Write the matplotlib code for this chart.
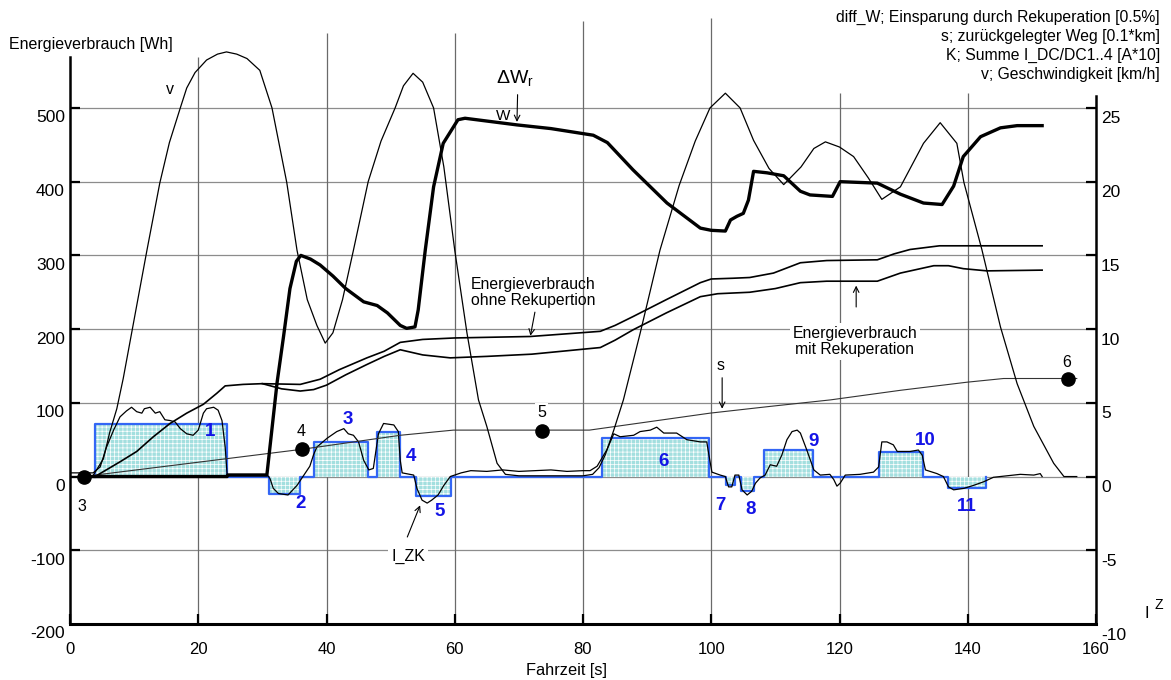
import matplotlib
matplotlib.use('Agg')
import matplotlib.pyplot as plt
from matplotlib import transforms as mtrans

plt.rcParams['font.family'] = ['Liberation Sans', 'DejaVu Sans']
plt.rcParams['hatch.linewidth'] = 0.5
plt.rcParams['mathtext.fontset'] = 'custom'
plt.rcParams['mathtext.rm'] = 'Liberation Sans'
plt.rcParams['mathtext.it'] = 'Liberation Sans:italic'

# ---------------- data (left-axis units, time in s) ----------------
v_t = [0, 3.5, 5.2, 6.2, 7.3, 8.3, 10, 12, 14, 15.5, 17.2, 18.2, 19.5, 21.3, 23, 24.4, 26, 27.6, 29.6, 31.5,
       33.8, 35.4, 37, 38.5, 39.8, 41, 42.5, 44.2, 46.5, 48.5, 50.7, 52, 53.5, 55, 56.7, 58.3, 60, 61.9, 63.7, 65,
       66.6, 67.9, 70, 75, 80, 81.5, 82.5, 83.5, 84.8, 86.3, 88.9, 92, 95, 97.5, 99.8, 102.2, 104.5, 106.6, 109, 111.3,
       114, 116, 117.8, 120, 122.2, 124.5, 126.6, 129.5, 133.1, 135.7, 138.3, 139.4, 142.2, 145.1, 147.7, 150.3, 153.4, 155, 157]
v_val = [0, 0, 24, 60, 92, 133, 213, 307, 398, 453, 500, 527, 548, 565, 573, 576, 573, 567, 551, 500,
         399, 307, 240, 205, 181, 195, 240, 307, 400, 455, 500, 530, 547, 535, 500, 420, 307, 195, 104, 68,
         18, 3, 1, 1, 1, 3, 12, 30, 63, 104, 194, 307, 395, 455, 500, 520, 500, 456, 418, 396,
         420, 445, 454, 447, 434, 405, 376, 393, 452, 480, 452, 399, 308, 203, 126, 68, 18, 0, 0]

dw_t = [2.2, 24.5, 24.6, 30.7, 31.5, 32.3, 33.3, 34.3, 35.3, 36.0, 37.5, 39, 41, 43, 45.8, 47.9, 49.5, 51.5, 52.5, 53.8,
        54.3, 55.4, 56.7, 58.2, 60.5, 61.6, 69.7, 75, 81.6, 83.8, 87.8, 93.1, 98.3, 100, 102.2, 103, 104, 105, 105.8, 106.6,
        108.7, 111.3, 113.9, 115.4, 118.9, 120.1, 125.9, 129.5, 133.1, 136, 137.8, 139.3, 142, 145.1, 147.7, 151.6]
dw_val = [0, 0, 2, 2, 65, 128, 190, 255, 292, 300, 295, 287, 272, 255, 237, 232, 222, 205, 201, 203,
          226, 307, 393, 452, 484, 486, 477, 472, 463, 453, 416, 371, 337, 334, 333, 348, 353, 357, 375, 414,
          412, 408, 387, 382, 380, 400, 398, 383, 371, 369, 394, 434, 461, 473, 476, 476]

ohne_t = [3.9, 7.8, 10.4, 13, 15.6, 18.2, 20.8, 22.9, 24.2, 27, 30, 35.9, 39, 42, 46.3, 49, 51.5, 55, 60, 71.8,
          82.7, 85, 87.8, 93, 98.3, 100, 103.4, 106, 109.7, 113.9, 118, 125.9, 128.5, 131, 135.6, 151.6]
ohne_val = [0, 20, 34, 54, 72, 86, 98, 113, 123, 125, 126, 125, 132, 145, 161, 170, 182, 186, 188, 190,
            197, 205, 217, 240, 263, 268, 269, 270, 276, 290, 293, 294, 302, 308, 313, 313]

mit_t = [30, 33, 35.9, 38, 40, 43, 46.3, 49, 51.5, 55, 59.3, 65, 72, 82.7, 85, 87.8, 93, 98.3, 101, 106,
         110, 113.9, 118, 125.9, 129.5, 134.7, 137, 139.3, 143, 151.6]
mit_val = [126, 119, 116, 118, 124, 138, 152, 163, 172, 165, 161, 163, 166, 175, 185, 199, 222, 244, 248, 250,
           255, 263, 265, 265, 276, 286, 286, 282, 279, 280]

s_t = [2.2, 3.9, 36.2, 51.5, 59.8, 81, 90, 99.8, 109, 118.6, 129.5, 139.9, 145.6, 157]
s_val = [0, 2, 37, 56, 63, 63, 74, 86, 95, 104, 117, 128, 133, 133]

izk_t = [0, 3.6, 4.7, 5.7, 6.8, 7.8, 8.8, 9.6, 10.4, 11.2, 11.6, 12.5, 13.3, 14.0, 14.8, 15.6, 16.4, 17.2, 18.2, 19.2,
         20.0, 20.8, 21.3, 22.4, 23.1, 23.7, 24.2, 24.5, 27, 30.7, 31.2, 31.7, 32.5, 34.0, 35.4, 36.4, 37.4, 38.0, 38.5, 40.1,
         41.6, 42.7, 43.4, 44.2, 45.0, 45.8, 46.6, 47.3, 48.1, 48.9, 50.5, 51.2, 51.5, 51.8, 53.6, 54.1, 54.9, 55.7, 56.4, 57.4,
         58.3, 59.3, 61, 62.5, 65, 67.5, 70, 72.5, 75, 77.5, 80, 81.1, 82.2, 83.7, 84.8, 85.8, 87.9, 88.9, 90.5, 91.5,
         92.6, 94.6, 96.2, 98.3, 99.3, 99.6, 100.1, 101.4, 102.2, 102.7, 103.2, 103.7, 104.3, 104.8, 105.6, 106.3, 106.9, 107.6, 108.4, 109.2,
         110.2, 111.0, 111.8, 112.6, 113.4, 113.9, 114.9, 116.0, 117.0, 118.5, 119.1, 119.6, 120.1, 120.9, 123.2, 125.3, 126.1, 126.6, 127.4, 128.4,
         129.0, 131.0, 132.3, 132.9, 133.4, 135.2, 136.2, 137.0, 137.8, 139.4, 140.9, 142.5, 144.0, 146.1, 148.2, 150.3, 151.3, 151.6]
izk_val = [5, 5, 13, 40, 63, 81, 89, 94, 88, 86, 92, 94, 86, 88, 77, 76, 74, 65, 58, 56,
           63, 86, 92, 94, 90, 76, 40, 3, 3, 3, -3, -16, -23, -25, -12, 1, 14, 30, 40, 52,
           61, 65, 58, 56, 47, 22, 9, 11, 58, 72, 70, 61, 22, 5, 2, -16, -32, -36, -32, -25,
           -12, 0, 5, 8, 7, 9, 7, 8, 9, 7, 8, 8, 14, 36, 58, 54, 56, 61, 63, 67,
           59, 59, 50, 47, 47, 31, 6, 2, 0, -14, -14, 2, 2, -18, -25, -20, -9, -2, 2, 16,
           14, 29, 50, 61, 63, 59, 36, 9, 2, 3, -4, -13, -9, 2, 3, 6, 13, 47, 47, 43,
           34, 34, 36, 29, 9, 4, 0, -14, -18, -16, -12, -7, -1, 1, 3, 2, 4, 0]

bar_start = [3.9, 31.1, 38.0, 47.9, 53.9, 82.9, 102.3, 104.7, 108.3, 126.1, 136.9]
bar_end = [24.5, 35.9, 46.4, 51.4, 59.4, 99.6, 103.7, 106.7, 115.9, 133.0, 142.8]
bar_val = [71, -23, 47, 61, -26, 52, -12, -20, 36, 33, -16]
bar_label = ['1', '2', '3', '4', '5', '6', '7', '8', '9', '10', '11']
bar_label_t = [21.8, 35.9, 43.4, 53.2, 57.7, 92.6, 101.4, 106.2, 115.9, 133.4, 139.9]
bar_label_v = [61, -36, 77, 27, -48, 21, -39, -45, 47, 49, -41]

dot_t = [2.2, 36.2, 73.6, 155.7]
dot_val = [0, 37, 62, 133]
dot_label = ['3', '4', '5', '6']

left_ticks = [500, 400, 300, 200, 100, 0, -100, -200]
right_ticks = [25, 20, 15, 10, 5, 0, -5, -10]
x_ticks = [0, 20, 40, 60, 80, 100, 120, 140, 160]
vgrid_x = [20, 40, 60, 80, 100, 120, 140]
vgrid_top = [569, 602, 602, 618, 622, 520, 520]

legend_lines = ['diff_W; Einsparung durch Rekuperation [0.5%]',
                's; zurückgelegter Weg [0.1*km]',
                'K; Summe I_DC/DC1..4 [A*10]',
                'v; Geschwindigkeit [km/h]']

# ---------------- figure ----------------
W, H = 1171, 680
fig = plt.figure(figsize=(W / 100, H / 100), dpi=100)
ax = fig.add_axes([70 / W, (H - 624) / H, (1096 - 70) / W, (624 - 18) / H])
ax.set_xlim(0, 160)
ax.set_ylim(-200, 622)
ax.patch.set_visible(False)

# grid
for yv in [500, 400, 300, 200, 100, 0, -100]:
    ax.axhline(yv, color='#8c8c8c', lw=0.9, zorder=1)
ax.vlines(vgrid_x, -200, vgrid_top, colors='#6a6a6a', lw=0.9, zorder=1)

# blue current blocks
widths = [e - s for s, e in zip(bar_start, bar_end)]
ax.bar(bar_start, bar_val, width=widths, bottom=0, align='edge', color='#a3dfdf',
       edgecolor='white', hatch='++++', linewidth=0, zorder=2)
step_x = [bar_start[0]]
step_y = [0]
for s, e, v in zip(bar_start, bar_end, bar_val):
    step_x += [s, e]
    step_y += [v, 0]
ax.plot(step_x, step_y, drawstyle='steps-post', color='#3366f5', lw=1.6, zorder=3)

# curves
ax.plot(izk_t, izk_val, color='black', lw=0.9, zorder=4)
ax.plot(s_t, s_val, color='#333333', lw=0.8, zorder=4)
ax.plot(ohne_t, ohne_val, color='black', lw=1.2, zorder=4)
ax.plot(mit_t, mit_val, color='black', lw=1.2, zorder=4)
ax.plot(v_t, v_val, color='black', lw=0.9, zorder=4)
ax.plot(dw_t, dw_val, color='black', lw=2.4, zorder=5, solid_joinstyle='round')

# dots
ax.plot(dot_t, dot_val, 'o', ms=9.5, color='black', zorder=6)
dot_offsets = [(-1.5, -21.5), (-0.7, 12.5), (0, 13), (-1.5, 11.5)]
for t, v, lab, off in zip(dot_t, dot_val, dot_label, dot_offsets):
    ax.annotate(lab, (t, v), xytext=off, textcoords='offset points', ha='center', va='center',
                fontsize=11.5, zorder=7,
                bbox=dict(fc='white', ec='none', pad=1.5) if lab == '5' else None)

# block labels
for t, v, lab in zip(bar_label_t, bar_label_v, bar_label):
    ax.text(t, v, lab, color='#1414e6', fontsize=13.5, fontweight='bold', ha='center', va='center', zorder=7)

# annotations
arrow = dict(arrowstyle='->', lw=0.8, color='black', shrinkA=0, shrinkB=0)
ax.text(15.6, 525, 'v', fontsize=11.5, ha='center', va='center', zorder=7)
ax.text(69.4, 541, r'$\Delta\mathrm{W}_\mathrm{r}$', fontsize=14, ha='center', va='center', zorder=7)
ax.text(67.6, 489, 'W', fontsize=11, ha='center', va='center', zorder=7)
ax.annotate('', xy=(69.7, 481), xytext=(69.8, 518), arrowprops=arrow, zorder=7)
ax.text(72.2, 250, 'Energieverbrauch\nohne Rekupertion', fontsize=11.3, ha='center', va='center',
        linespacing=1.1, zorder=7)
ax.annotate('', xy=(71.8, 191), xytext=(72.5, 223), arrowprops=arrow, zorder=7)
ax.text(122.4, 183, 'Energieverbrauch\nmit Rekuperation', fontsize=11.3, ha='center', va='center',
        linespacing=1.1, zorder=7, bbox=dict(fc='white', ec='none', pad=2))
ax.annotate('', xy=(122.6, 259), xytext=(122.6, 230), arrowprops=arrow, zorder=7)
ax.text(101.4, 151, 's', fontsize=11.5, ha='center', va='center', zorder=7)
ax.annotate('', xy=(101.7, 92), xytext=(101.7, 134), arrowprops=arrow, zorder=7)
ax.text(52.7, -108, 'I_ZK', fontsize=11.5, ha='center', va='center', zorder=7,
        bbox=dict(fc='white', ec='none', pad=2))
ax.annotate('', xy=(54.6, -39), xytext=(52.6, -82), arrowprops=arrow, zorder=7)

# spines and ticks
for side in ['top', 'right']:
    ax.spines[side].set_visible(False)
ax.spines['left'].set_bounds(-200, 569)
ax.spines['left'].set_linewidth(1.8)
ax.spines['bottom'].set_linewidth(2.2)
ax.set_yticks(left_ticks[:-1])
ax.tick_params(axis='y', direction='in', length=7, width=1.6, labelleft=False)
ax.set_xticks(x_ticks)
ax.set_xticklabels([str(x) for x in x_ticks])
ax.tick_params(axis='x', direction='in', length=7, width=1.6, labelsize=12, pad=13)

ax2 = ax.twinx()
ax2.set_ylim(-10, 622 / 20)
for side in ['left', 'top', 'bottom']:
    ax2.spines[side].set_visible(False)
ax2.spines['right'].set_bounds(-10, 25.8)
ax2.spines['right'].set_linewidth(1.8)
ax2.set_yticks(right_ticks[:-1])
ax2.tick_params(axis='y', direction='in', length=7, width=1.6, labelright=False)

lt = mtrans.offset_copy(ax.get_yaxis_transform(), fig=fig, x=-5, y=-10, units='dots')
for v in left_ticks:
    ax.text(0, v, str(v), transform=lt, ha='right', va='center', fontsize=12.5, clip_on=False)
rt = mtrans.offset_copy(ax2.get_yaxis_transform(), fig=fig, x=5, y=-11, units='dots')
for v in right_ticks:
    ax2.text(1, v, str(v), transform=rt, ha='left', va='center', fontsize=12.5, clip_on=False)

# figure texts
fig.text(9 / W, 1 - 45 / H, 'Energieverbrauch [Wh]', ha='left', va='center', fontsize=11.5)
fig.text(567 / W, 1 - 671 / H, 'Fahrzeit [s]', ha='center', va='center', fontsize=11.8)
for i, line in enumerate(legend_lines):
    fig.text(1160 / W, 1 - (17 + 19 * i) / H, line, ha='right', va='center', fontsize=11.3)
fig.text(1147 / W, 1 - 613 / H, 'I', ha='center', va='center', fontsize=12)
fig.text(1159 / W, 1 - 605 / H, 'Z', ha='center', va='center', fontsize=10)

fig.savefig('out.png', dpi=100)
